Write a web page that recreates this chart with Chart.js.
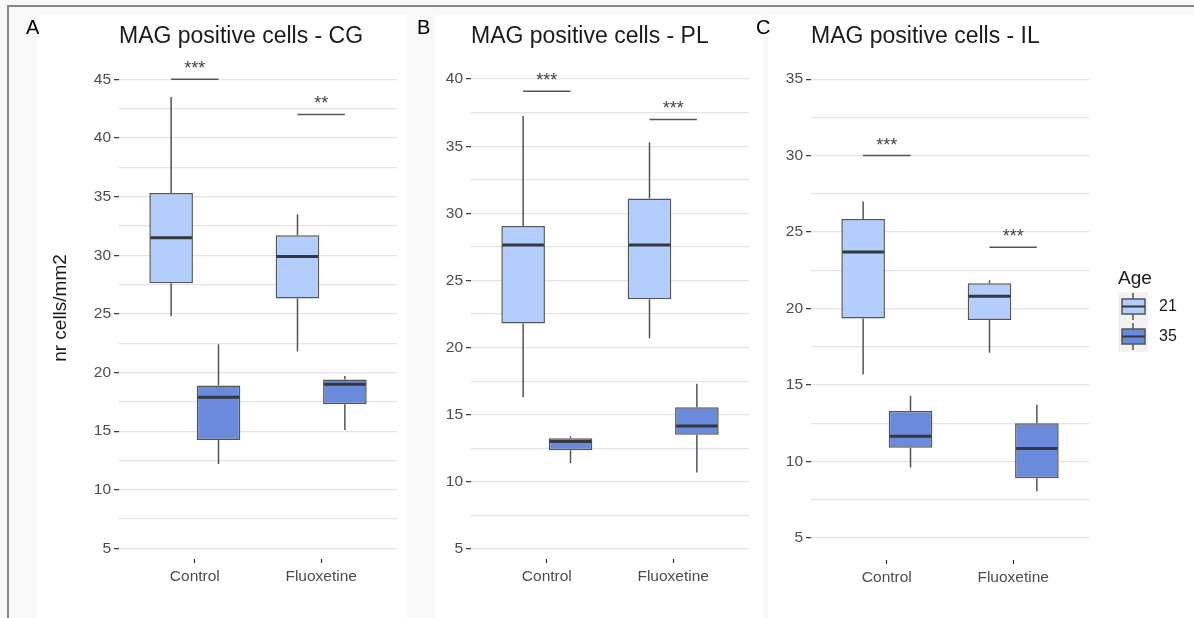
<!DOCTYPE html>
<html>
<head>
<meta charset="utf-8">
<script src="https://cdn.jsdelivr.net/npm/chart.js@4/dist/chart.umd.min.js"></script>
<style>
  body{margin:0;background:#fff;}
  #wrap{position:relative;width:1194px;height:618px;background:#f8f8f8;overflow:hidden;}
  .sheet{position:absolute;background:#fff;}
  .line{position:absolute;background:#8a8a8a;}
  canvas{position:absolute;top:0;}
</style>
</head>
<body>
<div id="wrap">
  <div class="sheet" style="left:38px;top:15px;width:368px;height:603px"></div>
  <div class="sheet" style="left:435px;top:15px;width:327px;height:603px"></div>
  <div class="sheet" style="left:768px;top:15px;width:426px;height:603px"></div>
  <div class="line" style="left:8px;top:5px;width:1186px;height:2px"></div>
  <div class="line" style="left:7px;top:5px;width:2px;height:613px"></div>
  <canvas id="cgChart" width="405" height="618" style="left:0"></canvas>
  <canvas id="plChart" width="350" height="618" style="left:405px"></canvas>
  <canvas id="ilChart" width="454" height="618" style="left:740px"></canvas>
</div>
<script>
/* ===============================
   DATA
   each box: [whisker low, Q1, median, Q3, whisker high]
================================ */

const groups = ["Control", "Fluoxetine"];
const ages   = ["21", "35"];

// CG
const cgTicks = [5, 10, 15, 20, 25, 30, 35, 40, 45];
const cg21 = [[24.8, 27.6, 31.5, 35.3, 43.5], [21.8, 26.3, 29.9, 31.7, 33.5]];
const cg35 = [[12.2, 14.25, 17.9, 18.9, 22.4], [15.1, 17.3, 19.0, 19.4, 19.7]];
const cgSig   = [45, 42];
const cgStars = ["***", "**"];

// PL
const plTicks = [5, 10, 15, 20, 25, 30, 35, 40];
const pl21 = [[16.3, 21.8, 27.65, 29.05, 37.25], [20.7, 23.6, 27.65, 31.1, 35.3]];
const pl35 = [[11.4, 12.35, 13.0, 13.25, 13.4], [10.7, 13.5, 14.15, 15.55, 17.3]];
const plSig   = [39.1, 37];
const plStars = ["***", "***"];

// IL
const ilTicks = [5, 10, 15, 20, 25, 30, 35];
const il21 = [[15.7, 19.35, 23.7, 25.85, 27.0], [17.1, 19.25, 20.8, 21.65, 21.85]];
const il35 = [[9.6, 10.9, 11.65, 13.3, 14.3], [8.05, 8.9, 10.85, 12.5, 13.7]];
const ilSig   = [30, 24];
const ilStars = ["***", "***"];


/* STYLE */
const FONT = "'Liberation Sans', Arial, Helvetica, sans-serif";
const fillColors = ["#b3cdfc", "#6a8bdb"];
const edgeColor = "#555555";
const medianColor = "#34383f";


/* BOX PARTS: whiskers, medians, brackets, titles */
const boxPlugin = {
  id: "boxParts",
  afterDatasetsDraw(chart) {
    const ctx = chart.ctx;
    const y = chart.scales.y;
    const o = chart.options.plugins.boxParts;

    chart.data.datasets.forEach((ds, i) => {
      const meta = chart.getDatasetMeta(i);
      meta.data.forEach((bar, j) => {
        const s = ds.stats[j];
        const half = bar.width / 2;
        ctx.save();
        ctx.strokeStyle = edgeColor;
        ctx.lineWidth = 1.5;
        ctx.beginPath();
        ctx.moveTo(bar.x, y.getPixelForValue(s[0]));
        ctx.lineTo(bar.x, y.getPixelForValue(s[1]));
        ctx.moveTo(bar.x, y.getPixelForValue(s[3]));
        ctx.lineTo(bar.x, y.getPixelForValue(s[4]));
        ctx.stroke();
        ctx.strokeStyle = medianColor;
        ctx.lineWidth = 3;
        ctx.beginPath();
        ctx.moveTo(bar.x - half + 1, y.getPixelForValue(s[2]));
        ctx.lineTo(bar.x + half - 1, y.getPixelForValue(s[2]));
        ctx.stroke();
        ctx.restore();
      });
    });

    // significance brackets
    const m0 = chart.getDatasetMeta(0), m1 = chart.getDatasetMeta(1);
    o.sig.forEach((v, j) => {
      const py = y.getPixelForValue(v);
      const x0 = m0.data[j].x, x1 = m1.data[j].x;
      ctx.save();
      ctx.strokeStyle = "#555";
      ctx.lineWidth = 1.5;
      ctx.beginPath();
      ctx.moveTo(x0, py);
      ctx.lineTo(x1, py);
      ctx.stroke();
      ctx.fillStyle = "#444";
      ctx.font = "18px " + FONT;
      ctx.textAlign = "center";
      ctx.textBaseline = "alphabetic";
      ctx.fillText(o.stars[j], (x0 + x1) / 2, py - 5);
      ctx.restore();
    });
  },
  afterDraw(chart) {
    const ctx = chart.ctx;
    const o = chart.options.plugins.boxParts;
    ctx.save();
    ctx.fillStyle = "#000";
    ctx.font = "20px " + FONT;
    ctx.textBaseline = "alphabetic";
    ctx.fillText(o.letter, o.letterX, 34);
    ctx.fillStyle = "#1a1a1a";
    ctx.font = "23px " + FONT;
    ctx.fillText(o.title, chart.chartArea.left, 43);
    ctx.restore();

    if (o.legend) drawLegend(chart);
  }
};


/* LEGEND (boxplot keys) */
function drawLegend(chart) {
  const ctx = chart.ctx;
  const left = chart.chartArea.right + 29;
  ctx.save();
  ctx.fillStyle = "#1a1a1a";
  ctx.font = "19px " + FONT;
  ctx.textBaseline = "alphabetic";
  ctx.fillText("Age", left, 284);

  ctx.fillStyle = "#f2f2f2";
  ctx.fillRect(left, 292, 30, 60);

  chart.data.datasets.forEach((ds, i) => {
    const top = 293 + i * 30;
    const cx = left + 15;
    ctx.strokeStyle = edgeColor;
    ctx.lineWidth = 1.5;
    ctx.beginPath();
    ctx.moveTo(cx, top);
    ctx.lineTo(cx, top + 27);
    ctx.stroke();
    ctx.fillStyle = ds.backgroundColor;
    ctx.fillRect(left + 4, top + 6, 23, 15);
    ctx.strokeRect(left + 4, top + 6, 23, 15);
    ctx.strokeStyle = medianColor;
    ctx.lineWidth = 2;
    ctx.beginPath();
    ctx.moveTo(left + 4, top + 13.5);
    ctx.lineTo(left + 27, top + 13.5);
    ctx.stroke();
    ctx.fillStyle = "#1a1a1a";
    ctx.font = "16px " + FONT;
    ctx.textBaseline = "middle";
    ctx.fillText(ds.label, left + 41, top + 14);
  });
  ctx.restore();
}


/* PANEL */
function makePanel(id, p) {
  const minor = p.ticks.slice(1).map((v, i) => (v + p.ticks[i]) / 2);
  const allTicks = p.ticks.concat(minor).sort((a, b) => a - b);
  const series = [p.s21, p.s35];

  new Chart(document.getElementById(id), {
    type: "bar",
    data: {
      datasets: series.map((s, i) => ({
        label: ages[i],
        data: s.map((b, j) => ({ x: j + 1, y: [b[1], b[3]] })),
        stats: s,
        backgroundColor: fillColors[i],
        borderColor: edgeColor,
        borderWidth: 1.5,
        borderSkipped: false,
        categoryPercentage: 0.75,
        barPercentage: 0.92
      }))
    },
    options: {
      responsive: false,
      animation: false,
      events: [],
      layout: { padding: p.pad },
      plugins: {
        legend: { display: false },
        tooltip: { enabled: false },
        boxParts: {
          sig: p.sig, stars: p.stars, title: p.title,
          letter: p.letter, letterX: p.letterX, legend: p.legend
        }
      },
      scales: {
        x: {
          type: "linear",
          min: 0.4, max: 2.6,
          offset: false,
          afterBuildTicks: s => { s.ticks = groups.map((g, i) => ({ value: i + 1 })); },
          afterFit: s => { s.height = 40; },
          ticks: {
            callback: v => groups[v - 1],
            autoSkip: false, maxRotation: 0,
            color: "#4d4d4d",
            font: { family: FONT, size: 15.5 },
            padding: 4
          },
          grid: {
            offset: false, drawOnChartArea: false,
            tickLength: 4, tickColor: "#333", tickWidth: 1.2
          },
          border: { display: false }
        },
        y: {
          min: p.range[0], max: p.range[1],
          afterBuildTicks: s => { s.ticks = allTicks.map(v => ({ value: v })); },
          afterFit: s => { s.width = p.yWidth; },
          ticks: {
            callback: v => p.ticks.includes(v) ? String(v) : "",
            autoSkip: false,
            color: "#4d4d4d",
            font: { family: FONT, size: 15.5 },
            padding: 3
          },
          grid: {
            color: "#e4e4e4", lineWidth: 1.3,
            tickLength: 5, tickWidth: 1.2,
            tickColor: c => p.ticks.includes(c.tick.value) ? "#333" : "rgba(0,0,0,0)"
          },
          border: { display: false },
          title: {
            display: !!p.yTitle,
            text: p.yTitle || "",
            color: "#1a1a1a",
            font: { family: FONT, size: 19 },
            padding: 0
          }
        }
      }
    },
    plugins: [boxPlugin]
  });
}

makePanel("cgChart", {
  title: "MAG positive cells - CG", letter: "A", letterX: 26,
  ticks: cgTicks, s21: cg21, s35: cg35, sig: cgSig, stars: cgStars,
  range: [4.1, 46.9], yTitle: "nr cells/mm2", yWidth: 70,
  pad: { left: 49, right: 8, top: 57, bottom: 19 }
});

makePanel("plChart", {
  title: "MAG positive cells - PL", letter: "B", letterX: 12,
  ticks: plTicks, s21: pl21, s35: pl35, sig: plSig, stars: plStars,
  range: [4.25, 41.65], yWidth: 40,
  pad: { left: 26, right: 6, top: 57, bottom: 19 }
});

makePanel("ilChart", {
  title: "MAG positive cells - IL", letter: "C", letterX: 16, legend: true,
  ticks: ilTicks, s21: il21, s35: il35, sig: ilSig, stars: ilStars,
  range: [3.55, 36.45], yWidth: 40,
  pad: { left: 31, right: 105, top: 57, bottom: 18 }
});
</script>
</body>
</html>
